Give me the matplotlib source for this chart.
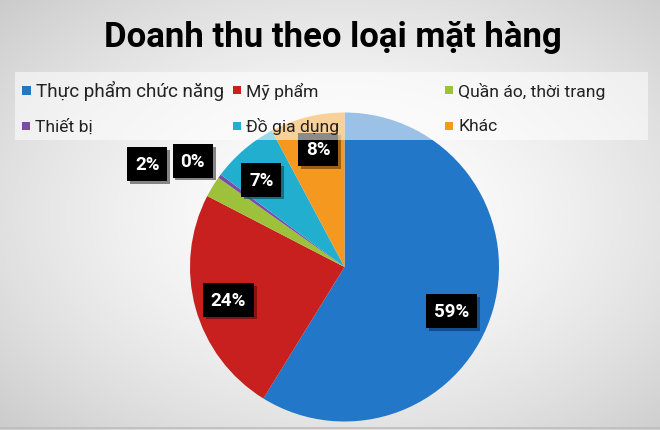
import numpy as np
import matplotlib
matplotlib.use("Agg")
import matplotlib.pyplot as plt
import matplotlib.patheffects as pe
from matplotlib.patches import Rectangle

plt.rcParams['font.family'] = ['Roboto', 'DejaVu Sans']

title = "Doanh thu theo loại mặt hàng"
categories = ["Thực phẩm chức năng", "Mỹ phẩm", "Quần áo, thời trang",
              "Thiết bị", "Đồ gia dụng", "Khác"]
values = [58.8, 23.8, 2.2, 0.4, 7.0, 7.8]
pct_labels = ["59%", "24%", "2%", "0%", "7%", "8%"]
colors = ["#2277C8", "#C8201E", "#9DC13B", "#7B4BA6", "#22AECF", "#F5981F"]
shadow_colors = ["#0B3C73", "#6E0D0B", "#555555", "#555555", "#0D5668", "#7A4A0C"]

# label placement style: radius factor and angle offset (deg) from wedge mid-angle
label_r = [0.75, 0.78, 1.44, 1.20, 0.78, 0.78]
label_dang = [-6.5, 0.3, 3.7, 1.0, 2.9, -1.3]

W, H = 660, 431
fig = plt.figure(figsize=(W / 100, H / 100), dpi=100)

# radial gradient background
bg = fig.add_axes([0, 0, 1, 1])
yy, xx = np.mgrid[0:H, 0:W]
d = np.sqrt(((xx - W * 0.52) / (W * 0.62)) ** 2 + ((yy - H * 0.5) / (H * 0.62)) ** 2)
g = 1.0 - 0.16 * np.clip(d, 0, 1.2) ** 1.6
img = np.dstack([g, g, g])
bg.imshow(img, extent=[0, W, H, 0], aspect='auto', interpolation='bilinear')
bg.set_xlim(0, W)
bg.set_ylim(H, 0)
bg.axis('off')
bg.plot([0, W], [429.5, 429.5], color="#BDBDBD", lw=1.2)

bg.text(333, 38, title, ha='center', va='center', fontsize=25,
        fontweight='bold', color='black')

# pie axes
cx, cy, R = 344.5, 268, 154.5
ax = fig.add_axes([(cx - R) / W, (H - cy - R) / H, 2 * R / W, 2 * R / H])
wedges, _ = ax.pie(values, colors=colors, startangle=90, counterclock=False,
                   radius=1.0, wedgeprops=dict(linewidth=0))
ax.set_xlim(-1, 1)
ax.set_ylim(-1, 1)
ax.set_aspect('equal')
ax.axis('off')
ax.set_zorder(2)

for w, lab, r, da, sc in zip(wedges, pct_labels, label_r, label_dang, shadow_colors):
    mid = np.deg2rad((w.theta1 + w.theta2) / 2 + da)
    t = ax.text(r * np.cos(mid), r * np.sin(mid), lab, ha='center', va='center',
                fontsize=13.5, fontweight='bold', color='white', zorder=5,
                bbox=dict(boxstyle='square,pad=0.42', fc='black', ec='none'),
                clip_on=False)
    t.get_bbox_patch().set_path_effects([
        pe.SimplePatchShadow(offset=(2, -2), shadow_rgbFace=sc, alpha=0.7),
        pe.Normal()])

# legend overlay
lg = fig.add_axes([0, 0, 1, 1], facecolor='none')
lg.set_xlim(0, W)
lg.set_ylim(H, 0)
lg.axis('off')
lg.set_zorder(10)
lg.add_patch(Rectangle((15, 73), 633, 68, fc='white', ec='none', alpha=0.55))
col_x = [22, 233, 445]
row_y = [91, 127]
for i, (cat, c) in enumerate(zip(categories, colors)):
    x = col_x[i % 3]
    y = row_y[i // 3]
    big = (i == 0)
    s = 9 if big else 8
    lg.add_patch(Rectangle((x, y - s / 2), s, s, fc=c, ec='none'))
    lg.text(x + s + 5, y, cat, ha='left', va='center',
            fontsize=13.6 if big else 12.6, color='#222222')

fig.savefig("out.png", dpi=100)
